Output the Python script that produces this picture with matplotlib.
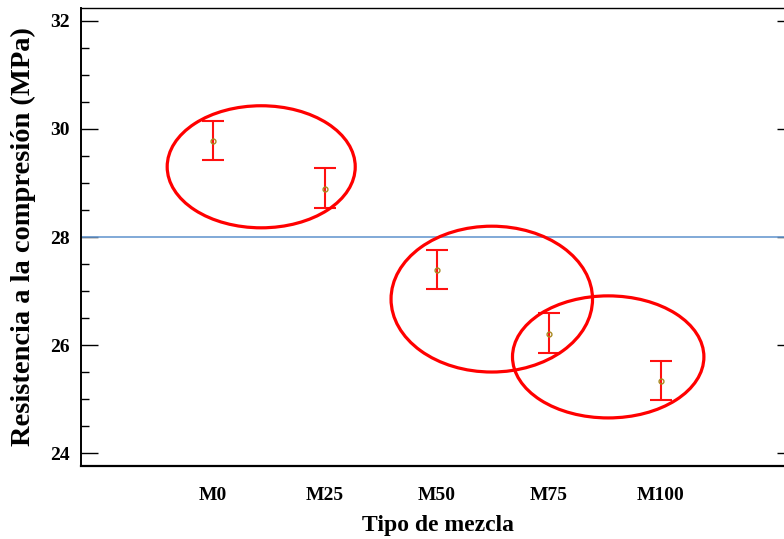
import matplotlib
matplotlib.use("Agg")
import matplotlib.pyplot as plt
from matplotlib.patches import Ellipse
from matplotlib.ticker import MultipleLocator

categories = ["M0", "M25", "M50", "M75", "M100"]
means = [29.77, 28.89, 27.39, 26.21, 25.34]
lower = [29.43, 28.53, 27.04, 25.85, 24.98]
upper = [30.15, 29.27, 27.76, 26.59, 25.70]
reference_value = 28.0

# ellipse groups: (center x index, center y, width, height)
ellipses = [
    (0.43, 29.30, 1.68, 2.26),
    (2.49, 26.85, 1.80, 2.70),
    (3.53, 25.78, 1.71, 2.26),
]

plt.rcParams['font.family'] = ['Liberation Serif', 'DejaVu Serif']

fig = plt.figure(figsize=(7.84, 5.39), dpi=100)
ax = fig.add_axes([81/784, 1-466/539, (794-81)/784, (466-8)/539])

x = list(range(len(categories)))
yerr = [[m - l for m, l in zip(means, lower)], [u - m for u, m in zip(upper, means)]]
ax.errorbar(x, means, yerr=yerr, fmt='none', ecolor='#ff1010', elinewidth=1.5,
            capsize=8, capthick=1.5, zorder=3)
ax.plot(x, means, 'o', ms=3.5, mfc='none', mec='#a88a20', mew=1.0, zorder=4)

ax.axhline(reference_value, color='#6b9bd1', lw=1.2, zorder=2)

for cx, cy, w, h in ellipses:
    ax.add_patch(Ellipse((cx, cy), w, h, fill=False, edgecolor='#ff0000', lw=2.3, zorder=5))

ax.set_xlim(-1.18, 5.19)
ax.set_ylim(23.76, 32.24)
ax.set_xticks(x)
ax.set_xticklabels(categories, fontsize=14, fontweight='bold')
ax.tick_params(axis='x', length=0, pad=15)
ax.yaxis.set_major_locator(MultipleLocator(2))
ax.yaxis.set_minor_locator(MultipleLocator(0.5))
ax.tick_params(axis='y', which='major', direction='in', length=12, width=1.0,
               labelsize=14, right=True, pad=8)
ax.tick_params(axis='y', which='minor', direction='in', length=6, width=1.0, right=True)
for lab in ax.get_yticklabels():
    lab.set_fontweight('bold')

ax.spines['left'].set_linewidth(1.4)
ax.spines['bottom'].set_linewidth(1.6)
ax.spines['top'].set_linewidth(1.0)
ax.spines['right'].set_visible(False)

ax.set_xlabel("Tipo de mezcla", fontsize=17, fontweight='bold', labelpad=8)
ax.set_ylabel("Resistencia a la compresión (MPa)", fontsize=20.5, fontweight='bold', labelpad=10)

fig.savefig("out.png", dpi=100)
